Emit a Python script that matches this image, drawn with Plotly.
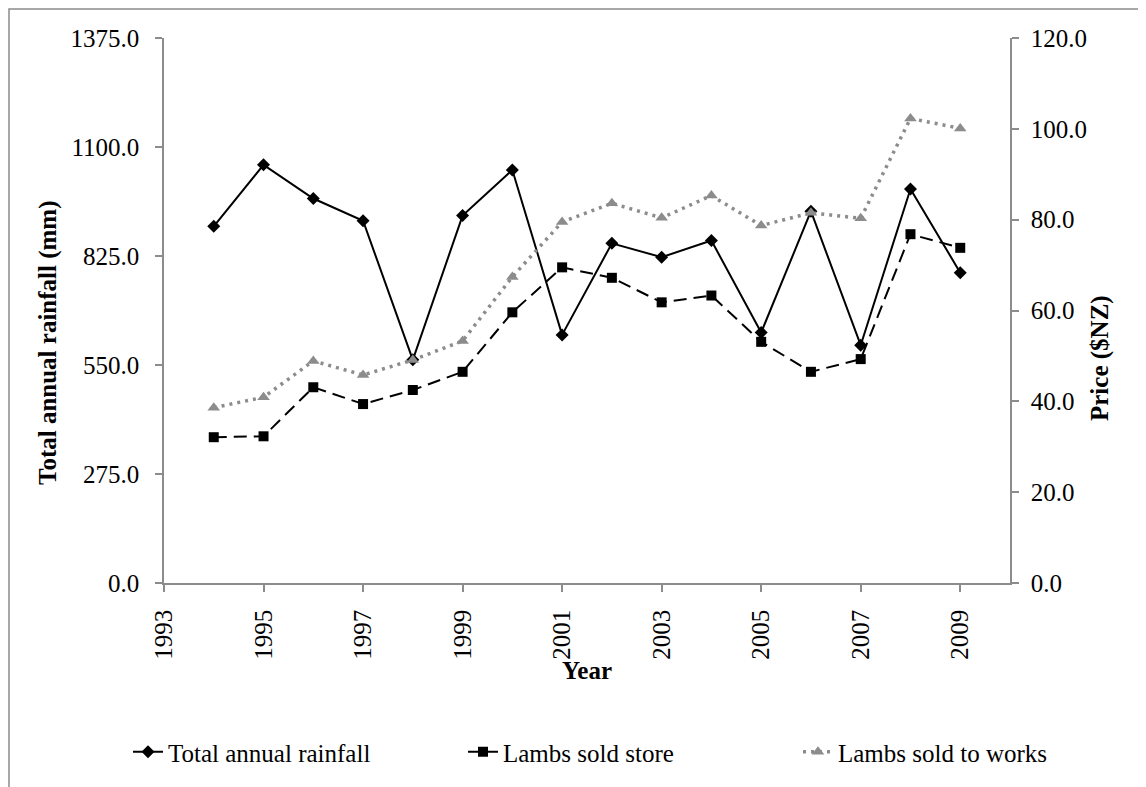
import plotly.graph_objects as go

years = [1994, 1995, 1996, 1997, 1998, 1999, 2000, 2001, 2002, 2003, 2004, 2005, 2006, 2007, 2008, 2009]
rainfall = [900, 1055, 970, 914, 563, 927, 1042, 626, 857, 822, 864, 632, 938, 600, 994, 783]
lambs_store = [32.1, 32.3, 43.1, 39.4, 42.5, 46.5, 59.6, 69.5, 67.2, 61.8, 63.3, 53.1, 46.5, 49.3, 76.8, 73.8]
lambs_works = [38.6, 40.9, 48.9, 45.8, 49.1, 53.3, 67.4, 79.5, 83.6, 80.4, 85.3, 78.7, 81.5, 80.3, 102.3, 100.1]

FONT = "Liberation Serif, Times New Roman, serif"
AX = "#8c8c8c"

OFF = 8  # page body margin
W, H = 1146 - OFF, 787 - OFF
# plot area in page coordinates
PL, PR, PT, PB = 164, 1010, 38, 583
L, R, T, B = PL - OFF, PR - OFF, PT - OFF, PB - OFF


def px(x):
    return (x - PL) / (PR - PL)


def py(y):
    return (PB - y) / (PB - PT)


fig = go.Figure()
fig.add_trace(go.Scatter(
    x=years, y=rainfall, name="Total annual rainfall", mode="lines+markers",
    line=dict(color="black", width=2),
    marker=dict(symbol="diamond", size=10, color="black"),
))
fig.add_trace(go.Scatter(
    x=years, y=lambs_store, name="Lambs sold store", mode="lines+markers", yaxis="y2",
    line=dict(color="black", width=2, dash="13px,7px"),
    marker=dict(symbol="square", size=10, color="black"),
))
fig.add_trace(go.Scatter(
    x=years, y=lambs_works, name="Lambs sold to works", mode="lines+markers", yaxis="y2",
    line=dict(color="#8c8c8c", width=3.5, dash="3px,5px"),
    marker=dict(symbol="triangle-up", size=11, color="#8c8c8c"),
))

axis_common = dict(
    showgrid=False, zeroline=False, showline=True, linecolor=AX, linewidth=1.5,
    ticks="outside", ticklen=7, tickcolor=AX, tickwidth=1.5,
    tickfont=dict(family=FONT, size=25, color="black"),
)

fig.update_layout(
    width=W, height=H,
    margin=dict(l=L, r=W - R, t=T, b=H - B, autoexpand=False),
    paper_bgcolor="white", plot_bgcolor="white",
    showlegend=True,
    legend=dict(orientation="h", x=px(128), xanchor="left", y=py(752), yanchor="middle",
                font=dict(family=FONT, size=25, color="black"),
                entrywidth=290, entrywidthmode="pixels",
                tracegroupgap=0),
    xaxis=dict(range=[1993, 2010], tick0=1993, dtick=2, tickangle=-90,
               ticklabelstandoff=8, **axis_common),
    yaxis=dict(range=[0, 1375], tick0=0, dtick=275, tickformat=".1f",
               ticklabelstandoff=11, **axis_common),
    yaxis2=dict(range=[0, 120], tick0=0, dtick=20, tickformat=".1f", overlaying="y",
                side="right", ticklabelstandoff=7, **axis_common),
    annotations=[
        dict(text="<b>Year</b>", x=px(587), y=py(670), xref="paper", yref="paper",
             xanchor="center", yanchor="middle",
             showarrow=False, font=dict(family=FONT, size=25, color="black")),
        dict(text="<b>Total annual rainfall (mm)</b>", x=px(48), y=py(343), xref="paper", yref="paper",
             xanchor="center", yanchor="middle",
             showarrow=False, textangle=-90, font=dict(family=FONT, size=25, color="black")),
        dict(text="<b>Price ($NZ)</b>", x=px(1100), y=py(358), xref="paper", yref="paper",
             xanchor="center", yanchor="middle",
             showarrow=False, textangle=-90, font=dict(family=FONT, size=25, color="black")),
    ],
    shapes=[
        dict(type="rect", xref="paper", yref="paper",
             x0=px(9), x1=px(1200), y0=py(850), y1=py(9),
             line=dict(color="#8c8c8c", width=1.5), fillcolor="rgba(0,0,0,0)", layer="below"),
    ],
)

fig.write_html("out.html")
